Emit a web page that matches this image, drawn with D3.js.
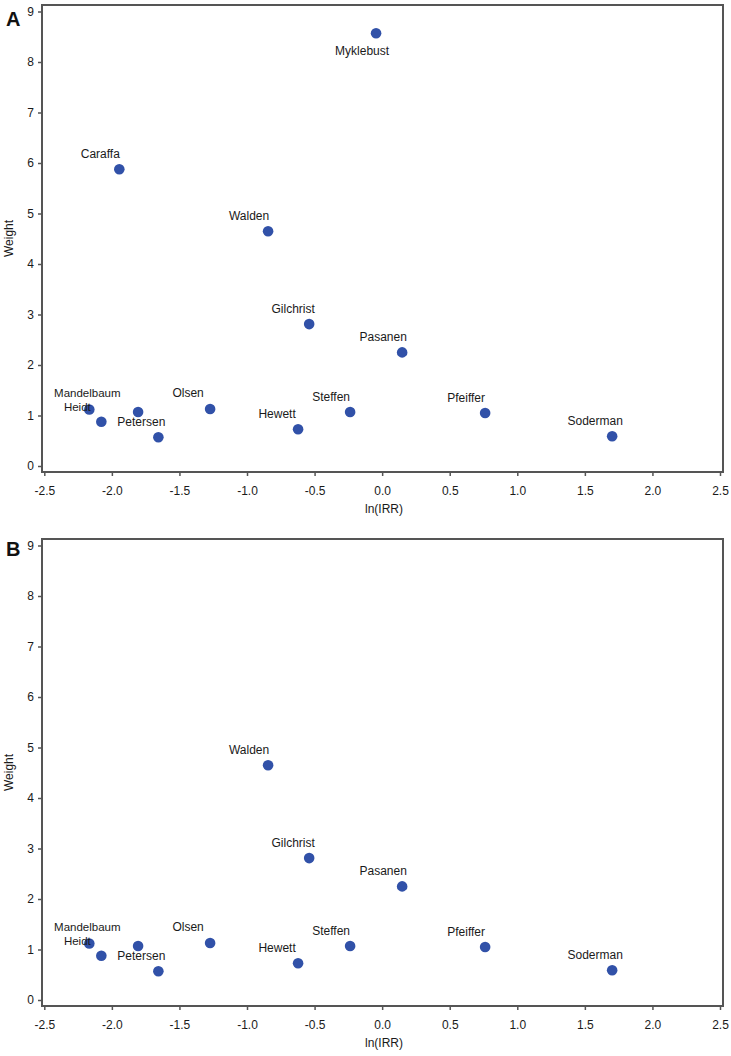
<!DOCTYPE html>
<html>
<head>
<meta charset="utf-8">
<script src="https://cdn.jsdelivr.net/npm/d3@7"></script>
<style>
  html, body { margin: 0; padding: 0; background: #fff; }
  svg { display: block; font-family: "Liberation Sans", Arial, sans-serif; }
</style>
</head>
<body>
<svg id="chart" width="731" height="1056"></svg>
<script>
// ---- data ----
const studies = ["Myklebust", "Caraffa", "Walden", "Gilchrist", "Pasanen", "Mandelbaum", "Heidt", "", "Petersen", "Olsen", "Hewett", "Steffen", "Pfeiffer", "Soderman"];
const lnIRR   = [-0.045, -1.945, -0.844, -0.54, 0.148, -2.167, -2.078, -1.806, -1.656, -1.273, -0.622, -0.237, 0.762, 1.702];
const weightA = [8.57, 5.875, 4.65, 2.81, 2.25, 1.12, 0.877, 1.07, 0.568, 1.13, 0.727, 1.07, 1.05, 0.588];
const weightB = [null, null, 4.65, 2.81, 2.25, 1.12, 0.877, 1.07, 0.568, 1.13, 0.727, 1.07, 1.05, 0.588];
const xTicks = [-2.5, -2.0, -1.5, -1.0, -0.5, 0.0, 0.5, 1.0, 1.5, 2.0, 2.5];
const yTicks = [0, 1, 2, 3, 4, 5, 6, 7, 8, 9];
const panelLabels = ["A", "B"];
const xTitle = "ln(IRR)";
const yTitle = "Weight";

// ---- styling / label placement (not data) ----
const dotColor = "#3151a8";
const frameColor = "#555555";
const defaultLabelOffset = [-19, -11];
const labelOffset = {
  "Myklebust": [-14, 22],
  "Mandelbaum": [-2, -12.5],
  "Heidt": [-24, -11],
  "Olsen": [-22, -12],
  "Hewett": [-21, -11],
  "Gilchrist": [-16, -11],
  "Petersen": [-17, -11],
  "Soderman": [-17, -11]
};
const labelSize = { "Mandelbaum": 11.5, "Heidt": 11.5 };

const svg = d3.select("#chart");

function drawPanel(offsetY, weights, letter) {
  const g = svg.append("g").attr("transform", `translate(0,${offsetY})`);
  const x = d3.scaleLinear().domain([-2.5, 2.5]).range([44.3, 720]);
  const y = d3.scaleLinear().domain([0, 9]).range([466, 11.5]);
  const frame = { left: 42, right: 723, top: 5, bottom: 472 };

  // y axis (ticks on left frame edge)
  const yAxis = g.append("g")
    .attr("transform", `translate(${frame.left},0)`)
    .call(d3.axisLeft(y).tickValues(yTicks).tickSize(4).tickPadding(4).tickFormat(d3.format("d")));
  yAxis.select(".domain").remove();

  // x axis (ticks below bottom frame edge)
  const xAxis = g.append("g")
    .attr("transform", `translate(0,${frame.bottom})`)
    .call(d3.axisBottom(x).tickValues(xTicks).tickSize(4).tickPadding(10).tickFormat(d => d.toFixed(1)));
  xAxis.select(".domain").remove();

  [yAxis, xAxis].forEach(a => {
    a.selectAll("line").attr("stroke", frameColor).attr("stroke-width", 1.5);
    a.selectAll("text").attr("fill", "#1a1a1a").style("font-size", "12px")
      .style("font-family", '"Liberation Sans", Arial, sans-serif');
  });

  // frame
  g.append("rect")
    .attr("x", frame.left).attr("y", frame.top)
    .attr("width", frame.right - frame.left).attr("height", frame.bottom - frame.top)
    .attr("fill", "none").attr("stroke", frameColor).attr("stroke-width", 2);

  // titles
  g.append("text")
    .attr("x", 384).attr("y", 513)
    .attr("text-anchor", "middle")
    .style("font-size", "12px").attr("fill", "#1a1a1a")
    .text(xTitle);
  g.append("text")
    .attr("transform", `translate(13,${(frame.top + frame.bottom) / 2}) rotate(-90)`)
    .attr("text-anchor", "middle")
    .style("font-size", "12px").attr("fill", "#1a1a1a")
    .text(yTitle);

  // panel letter
  g.append("text")
    .attr("x", 6).attr("y", letter === "A" ? 26 : 22)
    .style("font-size", "20px").style("font-weight", "bold")
    .attr("fill", "#111")
    .text(letter);

  const pts = studies.map((s, i) => ({ name: s, x: lnIRR[i], w: weights[i] }))
    .filter(d => d.w !== null);

  g.selectAll("circle.pt").data(pts).enter().append("circle")
    .attr("class", "pt")
    .attr("cx", d => x(d.x)).attr("cy", d => y(d.w))
    .attr("r", 5.3).attr("fill", dotColor);

  g.selectAll("text.lbl").data(pts.filter(d => d.name)).enter().append("text")
    .attr("class", "lbl")
    .attr("x", d => x(d.x) + (labelOffset[d.name] || defaultLabelOffset)[0])
    .attr("y", d => y(d.w) + (labelOffset[d.name] || defaultLabelOffset)[1])
    .attr("text-anchor", "middle")
    .style("font-size", d => (labelSize[d.name] || 12) + "px").attr("fill", "#1a1a1a")
    .text(d => d.name);
}

drawPanel(0, weightA, panelLabels[0]);
drawPanel(534, weightB, panelLabels[1]);
</script>
</body>
</html>
